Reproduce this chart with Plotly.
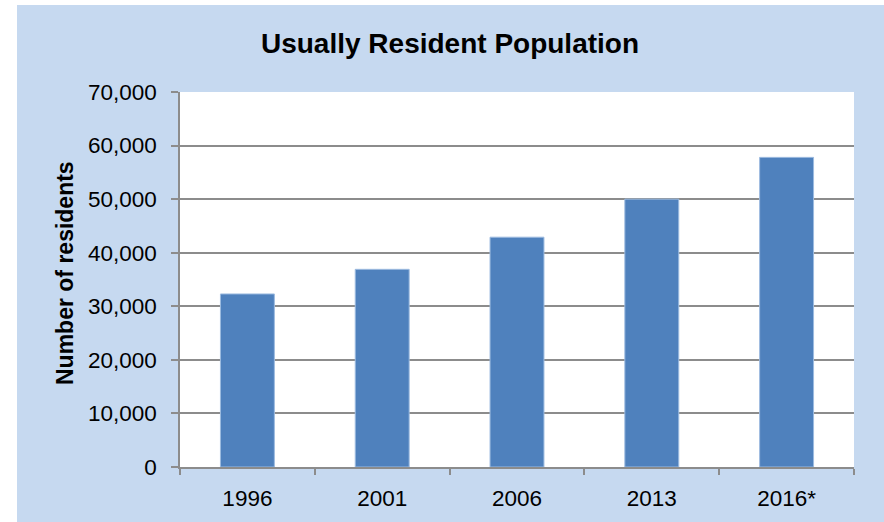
import plotly.graph_objects as go

# Census years and usually resident population counts
years = ["1996", "2001", "2006", "2013", "2016*"]
residents = [32300, 36900, 42900, 50000, 57800]
y_ticks = [0, 10000, 20000, 30000, 40000, 50000, 60000, 70000]
y_tick_text = ["0", "10,000", "20,000", "30,000", "40,000", "50,000", "60,000", "70,000"]

W, H = 884, 522
ML, MR, MT, MB = 180, 30, 92, 55
PW, PH = W - ML - MR, H - MT - MB

BG = "#C6D9F0"
GRID = "#8C8C8C"
FONT = "Liberation Sans, Arial, sans-serif"
TICK_SIZE = 22.5

fig = go.Figure(
    go.Bar(
        x=years,
        y=residents,
        width=0.4,
        marker=dict(color="#4F81BD", line=dict(color="#9DBBE0", width=1)),
    )
)

fig.update_layout(
    width=W,
    height=H,
    margin=dict(l=ML, r=MR, t=MT, b=MB),
    paper_bgcolor=BG,
    plot_bgcolor="white",
    showlegend=False,
    font=dict(family=FONT, size=TICK_SIZE, color="black"),
    title=dict(
        text="<b>Usually Resident Population</b>",
        x=450 / W,
        xanchor="center",
        xref="container",
        y=1 - 43 / H,
        yanchor="middle",
        yref="container",
        font=dict(family=FONT, size=28, color="black"),
    ),
    bargap=0.6,
)

fig.update_xaxes(
    type="category",
    showgrid=False,
    showline=True,
    linecolor=GRID,
    linewidth=1.5,
    ticks="outside",
    tickson="boundaries",
    ticklen=6,
    tickcolor=GRID,
    tickwidth=1.5,
    ticklabelstandoff=10,
    tickfont=dict(size=TICK_SIZE),
)

fig.update_yaxes(
    range=[0, 70000],
    tickvals=y_ticks,
    ticktext=y_tick_text,
    showgrid=True,
    gridcolor=GRID,
    gridwidth=1.5,
    showline=True,
    linecolor=GRID,
    linewidth=1.5,
    ticks="outside",
    ticklen=7,
    tickcolor=GRID,
    tickwidth=1.5,
    ticklabelstandoff=10,
    tickfont=dict(size=TICK_SIZE),
    zeroline=False,
)

# Vertical axis title
fig.add_annotation(
    text="<b>Number of residents</b>",
    textangle=-90,
    x=(65 - ML) / PW,
    xref="paper",
    xanchor="center",
    y=(467 - 273) / PH,
    yref="paper",
    yanchor="middle",
    showarrow=False,
    font=dict(family=FONT, size=23, color="black"),
)

# White margin strips along the left and top edges of the page
fig.add_shape(type="rect", xref="paper", yref="paper",
              x0=-ML / PW, x1=(17 - ML) / PW, y0=-MB / PH, y1=(H - MB) / PH,
              fillcolor="white", line=dict(width=0), layer="below")
fig.add_shape(type="rect", xref="paper", yref="paper",
              x0=-ML / PW, x1=(W - ML) / PW, y0=(H - MB - 5) / PH, y1=(H - MB) / PH,
              fillcolor="white", line=dict(width=0), layer="below")

fig.write_html("out.html")
